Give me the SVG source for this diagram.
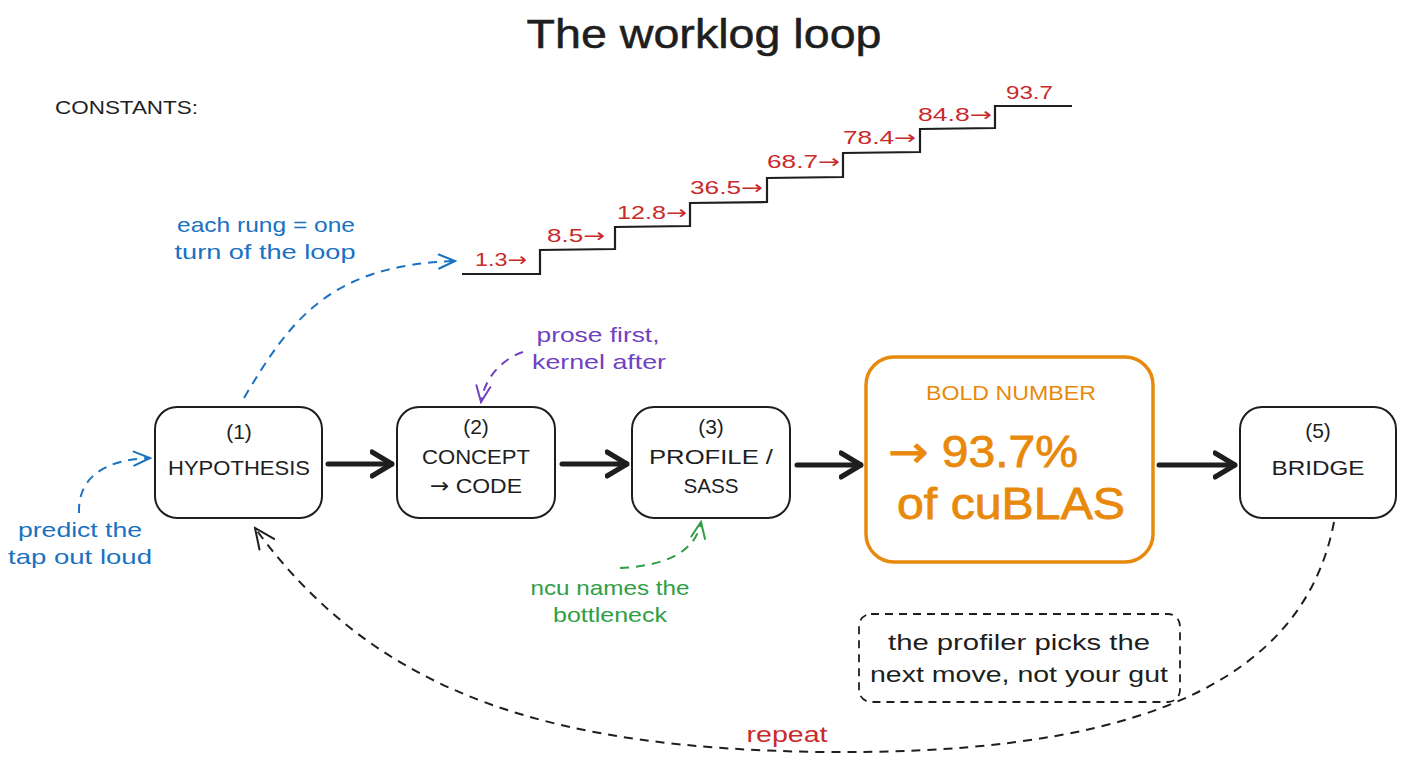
<svg xmlns="http://www.w3.org/2000/svg" width="1408" height="768" viewBox="0 0 1408 768">
<style>
text{font-family:"Liberation Sans","DejaVu Sans",sans-serif}
.ar{font-family:"DejaVu Sans",sans-serif}
.t{font-size:40px;fill:#1e1e1e;text-anchor:middle;stroke:#1e1e1e;stroke-width:0.5}
.cap{font-size:18px;fill:#1e1e1e}
.n{font-size:21px;fill:#1e1e1e;text-anchor:middle}
.box{fill:#fff;stroke:#1e1e1e;stroke-width:2}
.red{font-size:19px;fill:#c92a2a}
.blue{font-size:21px;fill:#1971c2;text-anchor:middle}
.purple{font-size:21px;fill:#6f42c1;text-anchor:middle}
.green{font-size:21px;fill:#2f9e44;text-anchor:middle}
.or{fill:#e8890c;text-anchor:middle}
.thick{fill:none;stroke:#1e1e1e;stroke-width:5;stroke-linecap:round}
.dash{fill:none;stroke-width:2;stroke-dasharray:9 7}
.stair{fill:none;stroke:#1e1e1e;stroke-width:2.2;stroke-linejoin:miter}
</style>
<defs>
<marker id="ah" markerUnits="userSpaceOnUse" viewBox="0 0 24 30" refX="22" refY="15" markerWidth="24" markerHeight="30" orient="auto">
<path d="M2,3 L22,15 L2,27" fill="none" stroke="#1e1e1e" stroke-width="5" stroke-linecap="round" stroke-linejoin="round"/>
</marker>
<marker id="ab" markerUnits="userSpaceOnUse" viewBox="0 0 20 20" refX="18" refY="10" markerWidth="20" markerHeight="20" orient="auto">
<path d="M2,3 L18,10 L2,17" fill="none" stroke="#1971c2" stroke-width="2" stroke-linecap="round"/>
</marker>
<marker id="ap" markerUnits="userSpaceOnUse" viewBox="0 0 20 20" refX="18" refY="10" markerWidth="20" markerHeight="20" orient="auto">
<path d="M2,3 L18,10 L2,17" fill="none" stroke="#6f42c1" stroke-width="2" stroke-linecap="round"/>
</marker>
<marker id="ag" markerUnits="userSpaceOnUse" viewBox="0 0 20 20" refX="18" refY="10" markerWidth="20" markerHeight="20" orient="auto">
<path d="M2,3 L18,10 L2,17" fill="none" stroke="#2f9e44" stroke-width="2" stroke-linecap="round"/>
</marker>
<marker id="ak" markerUnits="userSpaceOnUse" viewBox="0 0 24 24" refX="22" refY="12" markerWidth="24" markerHeight="24" orient="auto">
<path d="M2,3 L22,12 L2,21" fill="none" stroke="#1e1e1e" stroke-width="2" stroke-linecap="round"/>
</marker>
</defs>
<rect width="1408" height="768" fill="#fff"/>

<text class="t" x="704" y="48" textLength="355" lengthAdjust="spacingAndGlyphs">The worklog loop</text>
<text class="cap" x="55" y="114" textLength="143" lengthAdjust="spacingAndGlyphs">CONSTANTS:</text>

<g id="staircase">
<path class="stair" d="M462,274 L540,274 L540,250 L615,249 L615,227 L690,226 L690,203 L767,202 L767,178 L843,177 L843,153 L920,152 L920,129 L995,128 L995,106 L1072,106"/>
<text class="red" x="475" y="266" textLength="52" lengthAdjust="spacingAndGlyphs">1.3<tspan class="ar">→</tspan></text>
<text class="red" x="547" y="242" textLength="58" lengthAdjust="spacingAndGlyphs">8.5<tspan class="ar">→</tspan></text>
<text class="red" x="617" y="219" textLength="70" lengthAdjust="spacingAndGlyphs">12.8<tspan class="ar">→</tspan></text>
<text class="red" x="690" y="194" textLength="73" lengthAdjust="spacingAndGlyphs">36.5<tspan class="ar">→</tspan></text>
<text class="red" x="767" y="168" textLength="73" lengthAdjust="spacingAndGlyphs">68.7<tspan class="ar">→</tspan></text>
<text class="red" x="843" y="144" textLength="73" lengthAdjust="spacingAndGlyphs">78.4<tspan class="ar">→</tspan></text>
<text class="red" x="918" y="121" textLength="74" lengthAdjust="spacingAndGlyphs">84.8<tspan class="ar">→</tspan></text>
<text class="red" x="1006" y="99" textLength="47" lengthAdjust="spacingAndGlyphs">93.7</text>
</g>

<g id="connectors">
<path class="thick" d="M328,464 L392,464" marker-end="url(#ah)"/>
<path class="thick" d="M562,464 L627,464" marker-end="url(#ah)"/>
<path class="thick" d="M797,465 L861,465" marker-end="url(#ah)"/>
<path class="thick" d="M1159,465 L1235,465" marker-end="url(#ah)"/>
<path class="dash" stroke="#1971c2" d="M244,398 C290,320 330,265 455,261" marker-end="url(#ab)"/>
<path class="dash" stroke="#1971c2" d="M79,513 C78,480 100,460 150,458" marker-end="url(#ab)"/>
<path class="dash" stroke="#6f42c1" d="M523,352 C505,358 485,375 481,402" marker-end="url(#ap)"/>
<path class="dash" stroke="#2f9e44" d="M620,568 C660,566 695,555 701,522" marker-end="url(#ag)"/>
<path class="dash" stroke="#1e1e1e" d="M1334,522 C1300,700 1100,755 820,752 C560,748 380,700 255,528" marker-end="url(#ak)"/>
</g>

<g id="n1">
<rect class="box" x="155" y="407" width="167" height="111" rx="22"/>
<text class="n" x="239" y="439">(1)</text>
<text class="n" x="239" y="475" textLength="142" lengthAdjust="spacingAndGlyphs">HYPOTHESIS</text>
</g>
<g id="n2">
<rect class="box" x="397" y="407" width="158" height="111" rx="22"/>
<text class="n" x="476" y="434">(2)</text>
<text class="n" x="476" y="464" textLength="108" lengthAdjust="spacingAndGlyphs">CONCEPT</text>
<text class="n" x="476" y="493" textLength="92" lengthAdjust="spacingAndGlyphs"><tspan class="ar">→</tspan> CODE</text>
</g>
<g id="n3">
<rect class="box" x="632" y="407" width="158" height="111" rx="22"/>
<text class="n" x="711" y="434">(3)</text>
<text class="n" x="711" y="464" textLength="124" lengthAdjust="spacingAndGlyphs">PROFILE /</text>
<text class="n" x="711" y="493" textLength="55" lengthAdjust="spacingAndGlyphs">SASS</text>
</g>
<g id="n4">
<rect x="866" y="357" width="287" height="205" rx="28" fill="#fff" stroke="#e8890c" stroke-width="3.5"/>
<text class="or" x="1011" y="400" font-size="20" textLength="170" lengthAdjust="spacingAndGlyphs">BOLD NUMBER</text>
<text class="or" x="983" y="467" font-size="44" textLength="190" lengthAdjust="spacingAndGlyphs" stroke="#e8890c" stroke-width="0.8"><tspan class="ar">→</tspan> 93.7%</text>
<text class="or" x="1011" y="519" font-size="44" textLength="228" lengthAdjust="spacingAndGlyphs" stroke="#e8890c" stroke-width="0.8">of cuBLAS</text>
</g>
<g id="n5">
<rect class="box" x="1240" y="407" width="156" height="111" rx="22"/>
<text class="n" x="1318" y="438">(5)</text>
<text class="n" x="1318" y="475" textLength="93" lengthAdjust="spacingAndGlyphs">BRIDGE</text>
</g>

<g id="annotations">
<text class="blue" x="266" y="232" textLength="178" lengthAdjust="spacingAndGlyphs">each rung = one</text>
<text class="blue" x="265" y="259" textLength="181" lengthAdjust="spacingAndGlyphs">turn of the loop</text>
<text class="blue" x="80" y="537" textLength="124" lengthAdjust="spacingAndGlyphs">predict the</text>
<text class="blue" x="80" y="564" textLength="144" lengthAdjust="spacingAndGlyphs">tap out loud</text>
<text class="purple" x="598" y="342" textLength="123" lengthAdjust="spacingAndGlyphs">prose first,</text>
<text class="purple" x="599" y="369" textLength="134" lengthAdjust="spacingAndGlyphs">kernel after</text>
<text class="green" x="610" y="595" textLength="159" lengthAdjust="spacingAndGlyphs">ncu names the</text>
<text class="green" x="610" y="622" textLength="114" lengthAdjust="spacingAndGlyphs">bottleneck</text>
<text x="787" y="742" font-size="22" fill="#c92a2a" text-anchor="middle" textLength="81" lengthAdjust="spacingAndGlyphs">repeat</text>
</g>

<g id="note">
<rect x="859" y="614" width="321" height="88" rx="12" fill="#fff" stroke="#1e1e1e" stroke-width="1.8" stroke-dasharray="8 6"/>
<text x="1019" y="650" font-size="22" fill="#1e1e1e" text-anchor="middle" textLength="262" lengthAdjust="spacingAndGlyphs">the profiler picks the</text>
<text x="1019" y="682" font-size="22" fill="#1e1e1e" text-anchor="middle" textLength="298" lengthAdjust="spacingAndGlyphs">next move, not your gut</text>
</g>
</svg>
